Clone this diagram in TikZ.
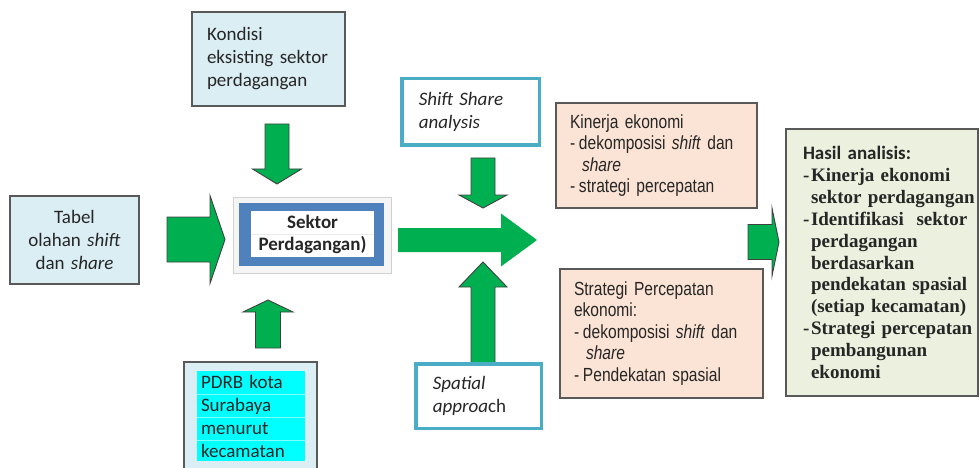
\documentclass[tikz,border=0pt]{standalone}
\usepackage{fontspec}
\setmainfont{Carlito}
\newfontfamily\narrowsans{Liberation Sans}[FakeStretch=0.82]
\newfontfamily\timesbf{Liberation Serif}

\definecolor{arrowgreen}{RGB}{0,176,80}
\definecolor{arrowline}{RGB}{64,64,64}
\definecolor{boxgrey}{RGB}{89,89,89}
\definecolor{lightblue}{RGB}{219,238,244}
\definecolor{pinkfill}{RGB}{251,228,213}
\definecolor{hasilfill}{RGB}{235,241,222}
\definecolor{tealframe}{RGB}{75,172,198}
\definecolor{frameblue}{RGB}{79,129,189}
\definecolor{brightcyan}{RGB}{0,255,255}
\definecolor{textcol}{RGB}{38,38,38}

\newcommand{\bodyfont}{\fontsize{19}{23}\selectfont}
\newcommand{\dashitem}[1]{\makebox[#1][l]{-}}
% block arrows: start, head base, tip, centre, half shaft, half head
\newcommand{\harrow}[7][]{\draw[greenarrow,#1] (#2,#5-#6) -- (#3,#5-#6) -- (#3,#5-#7) -- (#4,#5) -- (#3,#5+#7) -- (#3,#5+#6) -- (#2,#5+#6) -- cycle;}
\newcommand{\varrow}[7][]{\draw[greenarrow,#1] (#5-#6,#2) -- (#5-#6,#3) -- (#5-#7,#3) -- (#5,#4) -- (#5+#7,#3) -- (#5+#6,#3) -- (#5+#6,#2) -- cycle;}

\tikzset{
  greenarrow/.style={fill=arrowgreen, draw=arrowline, line width=0.9pt, line join=miter},
  infobox/.style={draw=boxgrey, fill=lightblue, line width=1.3pt, inner xsep=15pt, inner ysep=0pt,
    align=left, font=\bodyfont, text=textcol},
  tealbox/.style={draw=tealframe, fill=white, line width=3.5pt, inner xsep=17pt, inner ysep=0pt,
    align=left, font=\bodyfont\itshape, text=textcol},
  pinkbox/.style={draw=boxgrey, fill=pinkfill, line width=1.2pt, inner xsep=14pt, inner ysep=0pt,
    align=left, font=\narrowsans\fontsize{19}{21.5}\selectfont, text=textcol},
  hasilbox/.style={draw=boxgrey, fill=hasilfill, line width=1.2pt, inner xsep=17pt, inner ysep=0pt,
    align=left, font=\timesbf\bfseries\fontsize{19}{21.9}\selectfont, text=textcol}
}

\begin{document}
\hyphenpenalty=10000
\exhyphenpenalty=10000
\begin{tikzpicture}[x=1pt, y=-1pt]
\useasboundingbox (0,0) rectangle (980,468);

% arrows
\varrow{124}{169}{184}{277}{12}{24.5}
\harrow{167}{210}{225}{239.5}{22.5}{44}
\varrow{348}{312}{300}{268}{12.5}{25}
\varrow{158}{195}{208}{483}{12}{24}
\harrow[draw=none]{398}{501}{537}{240}{12}{26.5}
\varrow{363}{287}{262}{483}{12}{24}
\harrow{748}{772}{779}{242}{17.5}{34}

% input boxes
\node[infobox, minimum width=153pt, minimum height=94pt, text width=123pt] (kondisi) at (268.5,59)
  {Kondisi\\eksisting~sektor\\perdagangan};
\node[infobox, minimum width=129pt, minimum height=88pt, text width=109pt, inner xsep=10pt, align=center] (tabel) at (74.5,240)
  {Tabel\\olahan~\textit{shift}\\dan~\textit{share}};

% sektor perdagangan
\draw[fill=black!4, draw=black!18, line width=1pt] (233,197) rectangle (391,273);
\fill[frameblue] (239,203) rectangle (384,266);
\node[fill=white, minimum width=123pt, minimum height=46pt, inner sep=0pt, text width=123pt, align=center,
  font=\bfseries\fontsize{19}{22}\selectfont, text=textcol] (sektor) at (312.5,234) {Sektor\\Perdagangan)};
\draw[black!8, line width=0.8pt] (sektor.west) -- (sektor.east);

% PDRB
\draw[draw=boxgrey, fill=lightblue, line width=1.3pt] (184,362) rectangle (317,480);
\node[fill=brightcyan, minimum width=108pt, minimum height=90pt, inner xsep=4pt, inner ysep=0pt, text width=100pt,
  align=left, font=\bodyfont, text=textcol] (pdrb) at (251,416) {PDRB~kota\\Surabaya\\menurut\\kecamatan};
\foreach \yy in {394,417,440}
  \draw[brightcyan!50!white, line width=0.8pt] (197,\yy) -- (305,\yy);

% methods
\node[tealbox, minimum width=137.5pt, minimum height=66.5pt, text width=103.5pt] (shift) at (470.5,112)
  {Shift~Share\\analysis};
\node[tealbox, minimum width=125.5pt, minimum height=64.5pt, text width=91.5pt] (spatial) at (478.5,396)
  {Spatial\\approa\upshape ch};

% outputs
\node[pinkbox, minimum width=201pt, minimum height=105pt, text width=173pt] (kinerja) at (656.5,155.5)
  {Kinerja~ekonomi\\\dashitem{9pt}dekomposisi~\textit{shift}~dan\\\hspace*{12pt}\textit{share}\\\dashitem{9pt}strategi~percepatan};
\node[pinkbox, minimum width=203pt, minimum height=129pt, text width=175pt] (strategi) at (661.5,333.5)
  {Strategi~Percepatan\\ekonomi:\\\dashitem{9pt}dekomposisi~\textit{shift}~dan\\\hspace*{12pt}\textit{share}\\\dashitem{9pt}Pendekatan~spasial};

% hasil
\node[hasilbox, minimum width=192pt, minimum height=267pt, text width=158pt] (hasil) at (882,262.5)
  {{\normalfont\bfseries Hasil~analisis:}\\
   \dashitem{8pt}Kinerja~ekonomi\\\hspace*{8pt}sektor~perdagangan\\
   \dashitem{8pt}Identifikasi~~sektor\\\hspace*{8pt}perdagangan\\\hspace*{8pt}berdasarkan\\
   \hspace*{8pt}pendekatan~spasial\\\hspace*{8pt}(setiap~kecamatan)\\
   \dashitem{8pt}Strategi~percepatan\\\hspace*{8pt}pembangunan\\\hspace*{8pt}ekonomi};
\end{tikzpicture}
\end{document}
